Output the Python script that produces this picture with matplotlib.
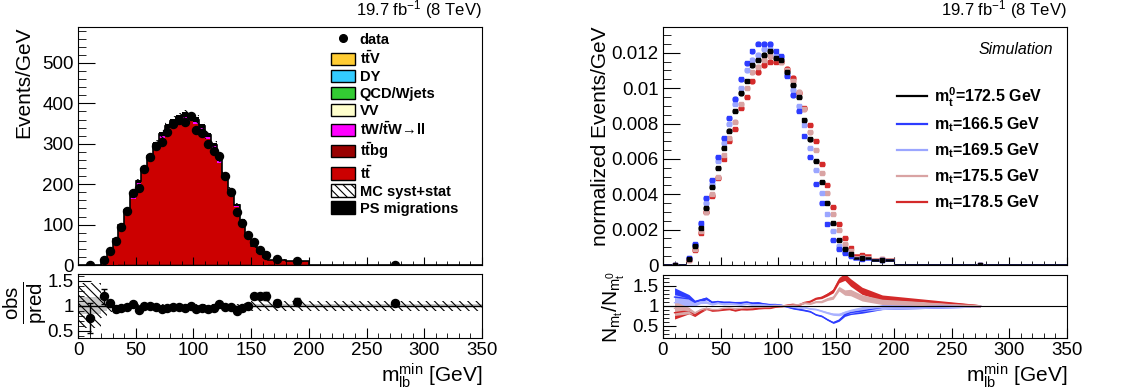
import numpy as np
import matplotlib
matplotlib.use("Agg")
import matplotlib.pyplot as plt
from matplotlib.patches import Patch
from matplotlib.lines import Line2D
from matplotlib.ticker import MultipleLocator

plt.rcParams['font.family'] = ['Liberation Sans', 'DejaVu Sans']
plt.rcParams['mathtext.fontset'] = 'custom'
plt.rcParams['mathtext.rm'] = 'Liberation Sans'
plt.rcParams['mathtext.it'] = 'Liberation Sans:italic'
plt.rcParams['mathtext.bf'] = 'Liberation Sans:bold'
plt.rcParams['hatch.linewidth'] = 0.8

#%% binning (GeV): 0-20, 5 GeV bins up to 165, then 165-180, 180-200, 200-350
edges = np.array([0, 20] + list(range(25, 170, 5)) + [180, 200, 350], dtype=float)

# left panel, events/GeV
data = [0.45, 12.5, 33.5, 59.5, 95, 133, 177, 190, 238, 267, 294, 305, 330, 350, 359, 353, 368,
        335, 327, 299, 283, 270, 220, 180, 132, 104, 75, 56, 38, 25, 13.7, 10.3, 0.57]
ratio_err = [0.3, 0.15, 0.07, 0.05, 0.04, 0.035, 0.03, 0.03, 0.03, 0.025, 0.025, 0.025, 0.025, 0.025,
             0.025, 0.025, 0.025, 0.025, 0.025, 0.025, 0.025, 0.025, 0.03, 0.03, 0.035, 0.04, 0.045,
             0.05, 0.06, 0.07, 0.06, 0.06, 0.04]
ttbar = [0.43, 9.45, 29.7, 59.8, 92.9, 128, 162.5, 195.9, 225.5, 256.6, 285.8, 310.1, 329.5, 341.4,
         350, 356.1, 352.3, 345, 329.4, 308.2, 285.2, 250.6, 215.1, 177.6, 141.1, 104.5, 71, 43.8,
         29.6, 19, 10.3, 5.9, 0.41]
ttbg = [0.0, 0.3, 0.6, 1.0, 1.4, 1.8, 2.0, 2.3, 2.5, 2.7, 2.9, 3.0, 3.1, 3.2, 3.2, 3.2, 3.1, 3.0,
        2.9, 2.8, 2.6, 2.4, 2.2, 2.0, 1.8, 1.6, 1.4, 1.2, 1.1, 1.0, 2.0, 3.0, 0.1]
tw = [0.1, 0.4, 1.0, 2.0, 3.0, 4.0, 5.0, 6.0, 7.0, 7.5, 8.0, 8.5, 9.0, 9.0, 9.5, 9.5, 9.5, 9.0,
      9.0, 8.5, 8.0, 7.0, 6.0, 5.0, 4.0, 3.0, 2.0, 1.5, 1.0, 0.7, 0.5, 0.4, 0.02]
vv = [0.01, 0.02, 0.03, 0.07, 0.1, 0.13, 0.17, 0.2, 0.2, 0.23, 0.23, 0.27, 0.27, 0.27, 0.27, 0.27,
      0.27, 0.27, 0.23, 0.23, 0.2, 0.2, 0.17, 0.13, 0.1, 0.1, 0.07, 0.07, 0.03, 0.03, 0.03, 0.03, 0.0]
qcd = [0.0, 0.01, 0.03, 0.06, 0.1, 0.13, 0.16, 0.2, 0.2, 0.24, 0.24, 0.26, 0.26, 0.26, 0.26, 0.26,
       0.26, 0.26, 0.24, 0.24, 0.2, 0.2, 0.16, 0.14, 0.1, 0.1, 0.06, 0.06, 0.04, 0.04, 0.04, 0.04, 0.0]
dy = [0.05, 0.3, 0.6, 1.0, 1.4, 1.8, 2.0, 2.2, 2.4, 2.5, 2.6, 2.6, 2.6, 2.6, 2.5, 2.4, 2.3, 2.2,
      2.0, 1.8, 1.6, 1.4, 1.2, 1.0, 0.8, 0.6, 0.4, 0.3, 0.2, 0.15, 0.1, 0.1, 0.01]
ttv = [0.01, 0.02, 0.04, 0.07, 0.1, 0.14, 0.17, 0.2, 0.2, 0.23, 0.23, 0.27, 0.27, 0.27, 0.27, 0.27,
       0.27, 0.27, 0.23, 0.23, 0.2, 0.2, 0.17, 0.13, 0.1, 0.1, 0.07, 0.07, 0.03, 0.03, 0.03, 0.03, 0.0]
syst_rel = [0.45, 0.25, 0.12, 0.05, 0.04, 0.035, 0.03, 0.03, 0.03, 0.03, 0.03, 0.03, 0.03, 0.03,
            0.03, 0.03, 0.03, 0.03, 0.03, 0.03, 0.03, 0.03, 0.035, 0.04, 0.04, 0.045, 0.05, 0.1,
            0.1, 0.1, 0.1, 0.1, 0.1]
ps_rel = [0.17, 0.1, 0.03, 0.02, 0.015, 0.015, 0.015, 0.015, 0.015, 0.015, 0.015, 0.015, 0.015,
          0.015, 0.015, 0.015, 0.015, 0.015, 0.015, 0.015, 0.015, 0.015, 0.015, 0.015, 0.02, 0.02,
          0.02, 0.03, 0.03, 0.03, 0.03, 0.03, 0.03]

# right panel, normalized events/GeV
mt1725 = [0.00002, 0.00034, 0.0011, 0.0021, 0.0032, 0.0044, 0.0055, 0.0066, 0.0076, 0.0087, 0.0097,
          0.0104, 0.0113, 0.0116, 0.0119, 0.0121, 0.0117, 0.0116, 0.0109, 0.0102, 0.0095, 0.0082,
          0.0071, 0.0059, 0.0047, 0.0035, 0.0024, 0.0014, 0.0009, 0.0006, 0.0004, 0.0003, 0.00002]
mt1665 = [0.0000244, 0.0004, 0.0012, 0.0024, 0.0038, 0.0048, 0.0061, 0.0072, 0.0083, 0.0094, 0.0105,
          0.0114, 0.0121, 0.0125, 0.0125, 0.0125, 0.0121, 0.0118, 0.0107, 0.0096, 0.0087, 0.0073,
          0.0061, 0.0046, 0.0035, 0.0023, 0.0014, 0.0009, 0.0007, 0.0005, 0.00035, 0.00029, 0.00002]
mt1695 = [0.0000216, 0.00037, 0.00115, 0.0023, 0.0035, 0.0046, 0.0059, 0.0069, 0.008, 0.0091, 0.01,
          0.011, 0.0116, 0.0119, 0.0122, 0.0122, 0.0119, 0.0117, 0.0108, 0.0099, 0.009, 0.0079,
          0.0066, 0.0054, 0.0041, 0.0029, 0.0019, 0.0011, 0.00075, 0.00052, 0.00037, 0.00029, 0.00002]
mt1755 = [0.0000188, 0.0003, 0.0009, 0.0019, 0.003, 0.004, 0.005, 0.0062, 0.0072, 0.0081, 0.0091,
          0.01, 0.0109, 0.0112, 0.0116, 0.0118, 0.0117, 0.0115, 0.011, 0.0104, 0.0098, 0.0088,
          0.0075, 0.0065, 0.0052, 0.0041, 0.0029, 0.002, 0.0012, 0.0008, 0.00048, 0.00033, 0.00002]
mt1785 = [0.0000166, 0.0003, 0.00085, 0.0018, 0.003, 0.0039, 0.0049, 0.006, 0.007, 0.0077, 0.0089,
          0.0095, 0.0104, 0.0109, 0.0113, 0.0115, 0.0115, 0.0115, 0.0111, 0.0106, 0.0097, 0.0089,
          0.0079, 0.007, 0.0057, 0.0045, 0.0033, 0.0023, 0.00155, 0.00095, 0.00055, 0.00036, 0.00002]
norm_err = [0.000005, 0.00004, 0.00006, 0.00008, 0.0001, 0.0001, 0.00011, 0.00012, 0.00012, 0.00013,
            0.00013, 0.00013, 0.00014, 0.00014, 0.00014, 0.00014, 0.00014, 0.00014, 0.00013, 0.00013,
            0.00013, 0.00012, 0.00012, 0.00011, 0.0001, 0.00009, 0.00008, 0.00006, 0.00005, 0.00004,
            0.00002, 0.00002, 0.000003]
band_rel = [0.19, 0.09, 0.05, 0.035, 0.03, 0.025, 0.02, 0.02, 0.02, 0.02, 0.02, 0.02, 0.02, 0.02,
            0.02, 0.02, 0.02, 0.02, 0.02, 0.02, 0.02, 0.02, 0.02, 0.02, 0.025, 0.03, 0.035, 0.04,
            0.05, 0.06, 0.065, 0.06, 0.03]

centers = (edges[:-1] + edges[1:]) / 2
halfw = np.diff(edges) / 2
W, H = 1122, 388
lumi = '19.7 fb$^{-1}$ (8 TeV)'
xlab = 'm$_{\\mathregular{lb}}^{\\mathregular{min}}$ [GeV]'


def frame(ax, xmaj_len, ymaj_len):
    ax.set_xlim(0, 350)
    ax.xaxis.set_major_locator(MultipleLocator(50))
    ax.xaxis.set_minor_locator(MultipleLocator(10))
    ax.tick_params(axis='both', which='both', direction='in', labelsize=13.5, pad=3)
    ax.tick_params(axis='x', which='major', length=xmaj_len)
    ax.tick_params(axis='x', which='minor', length=xmaj_len / 2)
    ax.tick_params(axis='y', which='major', length=ymaj_len)
    ax.tick_params(axis='y', which='minor', length=ymaj_len / 2)


fig = plt.figure(figsize=(W / 100, H / 100), dpi=100)
axl = fig.add_axes([78 / W, 123 / H, 404 / W, 238 / H])
axlr = fig.add_axes([78 / W, 50 / H, 404 / W, 64 / H])
axr = fig.add_axes([663 / W, 123 / H, 404 / W, 238 / H])
axrr = fig.add_axes([663 / W, 50 / H, 404 / W, 63 / H])

#%% left: stacked prediction + data
comps = [(ttbg, '#990000'), (ttbar, '#cc0000'), (tw, '#ff00ff'), (vv, '#ffffcc'),
         (qcd, '#33cc33'), (dy, '#33ccff'), (ttv, '#ffcc33')]
bottom = np.zeros(len(centers))
for vals, col in comps:
    top = bottom + np.array(vals)
    axl.stairs(top, edges, baseline=bottom, fill=True, color=col, lw=0)
    bottom = top
total = bottom
syst = np.array(syst_rel)
ps = np.array(ps_rel)
axl.stairs(total * (1 + syst), edges, baseline=total * (1 - syst), fill=True,
           facecolor='none', edgecolor='k', hatch='\\\\\\\\', lw=0)
axl.stairs(total * (1 + ps), edges, baseline=total * (1 - ps), fill=True, color='k', lw=0)
axl.stairs(total, edges, color='k', lw=1.2)
axl.plot(centers, data, 'o', color='k', ms=5.8)

frame(axl, 6, 12)
axl.set_ylim(0, 589)
axl.set_yticks([0, 100, 200, 300, 400, 500])
axl.yaxis.set_minor_locator(MultipleLocator(20))
axl.tick_params(axis='x', labelbottom=False)
axl.set_ylabel('Events/GeV', fontsize=15, loc='top')
axl.yaxis.set_label_coords(-0.11, 1.0)
axl.text(1.0, 1.025, lumi, transform=axl.transAxes, ha='right', va='bottom', fontsize=12)

handles = [Line2D([], [], ls='none', marker='o', color='k', ms=5.5),
           Patch(facecolor='#ffcc33', edgecolor='k'), Patch(facecolor='#33ccff', edgecolor='k'),
           Patch(facecolor='#33cc33', edgecolor='k'), Patch(facecolor='#ffffcc', edgecolor='k'),
           Patch(facecolor='#ff00ff', edgecolor='k'), Patch(facecolor='#990000', edgecolor='k'),
           Patch(facecolor='#cc0000', edgecolor='k'),
           Patch(facecolor='none', edgecolor='k', hatch='\\\\\\\\'), Patch(facecolor='k', edgecolor='k')]
labels = ['data', r'$\mathbf{t\bar{t}V}$', 'DY', 'QCD/Wjets', 'VV',
          r'$\mathbf{tW/\bar{t}W}\!\rightarrow\!\mathbf{ll}$', r'$\mathbf{t\bar{t}bg}$',
          r'$\mathbf{t\bar{t}}$', 'MC syst+stat', 'PS migrations']
axl.legend(handles, labels, loc='upper left', bbox_to_anchor=(0.625, 0.975), frameon=False,
           borderpad=0, borderaxespad=0, handlelength=1.65, handleheight=0.9,
           handletextpad=0.35, labelspacing=0.2, prop={'weight': 'bold', 'size': 10.5})

#%% left ratio
ratio = np.array(data) / total
axlr.stairs(1 + ps, edges, baseline=1 - ps, fill=True, color='#c8c8c8', lw=0)
axlr.stairs(1 + syst, edges, baseline=1 - syst, fill=True, facecolor='none',
            edgecolor='k', hatch='\\\\\\\\', lw=0)
axlr.axhline(1, color='k', lw=1)
axlr.errorbar(centers, ratio, yerr=ratio_err, fmt='o', color='k', ms=5.8, elinewidth=1, capsize=2)
frame(axlr, 7, 9)
axlr.set_ylim(0.36, 1.63)
axlr.set_yticks([0.5, 1, 1.5], ['0.5', '1', '1.5'])
axlr.yaxis.set_minor_locator(MultipleLocator(0.1))
axlr.set_ylabel(r'$\frac{\mathregular{obs}}{\mathregular{pred}}$', fontsize=21)
axlr.yaxis.set_label_coords(-0.072, 0.55)
axlr.set_xlabel(xlab, fontsize=15, loc='right')
axlr.xaxis.set_label_coords(1.0, -0.36)

#%% right: normalized shapes for different top masses
series = [(mt1785, '#d42a2a', r'$\mathbf{m_t}$=178.5 GeV'),
          (mt1755, '#d9a3a3', r'$\mathbf{m_t}$=175.5 GeV'),
          (mt1695, '#9ba6ff', r'$\mathbf{m_t}$=169.5 GeV'),
          (mt1665, '#2d3cff', r'$\mathbf{m_t}$=166.5 GeV'),
          (mt1725, '#000000', r'$\mathbf{m_t^0}$=172.5 GeV')]
for vals, col, lab in series:
    axr.errorbar(centers, vals, xerr=halfw, yerr=norm_err, fmt='s', ms=2.8, color=col,
                 elinewidth=1.8, capsize=0)
frame(axr, 6, 12)
axr.set_ylim(0, 0.01346)
axr.set_yticks([0, 0.002, 0.004, 0.006, 0.008, 0.01, 0.012],
               ['0', '0.002', '0.004', '0.006', '0.008', '0.01', '0.012'])
axr.yaxis.set_minor_locator(MultipleLocator(0.0005))
axr.tick_params(axis='x', labelbottom=False)
axr.set_ylabel('normalized Events/GeV', fontsize=15, loc='top')
axr.yaxis.set_label_coords(-0.13, 1.0)
axr.text(1.0, 1.025, lumi, transform=axr.transAxes, ha='right', va='bottom', fontsize=12)
axr.text(0.965, 0.905, 'Simulation', transform=axr.transAxes, ha='right', va='center',
         fontsize=11.5, style='italic')
leg_order = [4, 3, 2, 1, 0]
axr.legend([Line2D([], [], color=series[i][1], lw=1.6) for i in leg_order],
           [series[i][2] for i in leg_order], loc='upper left', bbox_to_anchor=(0.579, 0.755),
           frameon=False, borderpad=0, borderaxespad=0, handlelength=1.9, handletextpad=0.4,
           labelspacing=0.45, prop={'weight': 'bold', 'size': 11.5})

#%% right ratio
nom = np.array(mt1725)
band = np.array(band_rel)
for vals, col in [(mt1665, '#2d3cff'), (mt1785, '#d42a2a'), (mt1695, '#aab2ff'), (mt1755, '#d9a8a8')]:
    r = np.array(vals) / nom
    axrr.fill_between(centers, r * (1 - band), r * (1 + band), color=col, lw=0)
    axrr.plot(centers, r, color=col, lw=1)
axrr.axhline(1, color='k', lw=0.8)
frame(axrr, 7, 9)
axrr.set_ylim(0.2, 1.77)
axrr.set_yticks([0.5, 1, 1.5], ['0.5', '1', '1.5'])
axrr.yaxis.set_minor_locator(MultipleLocator(0.1))
axrr.set_ylabel(r'N$_{\mathregular{m_t}}$/N$_{\mathregular{m_t^0}}$', fontsize=15)
axrr.yaxis.set_label_coords(-0.09, 0.5)
axrr.set_xlabel(xlab, fontsize=15, loc='right')
axrr.xaxis.set_label_coords(1.0, -0.37)

fig.savefig('out.png', dpi=100)
